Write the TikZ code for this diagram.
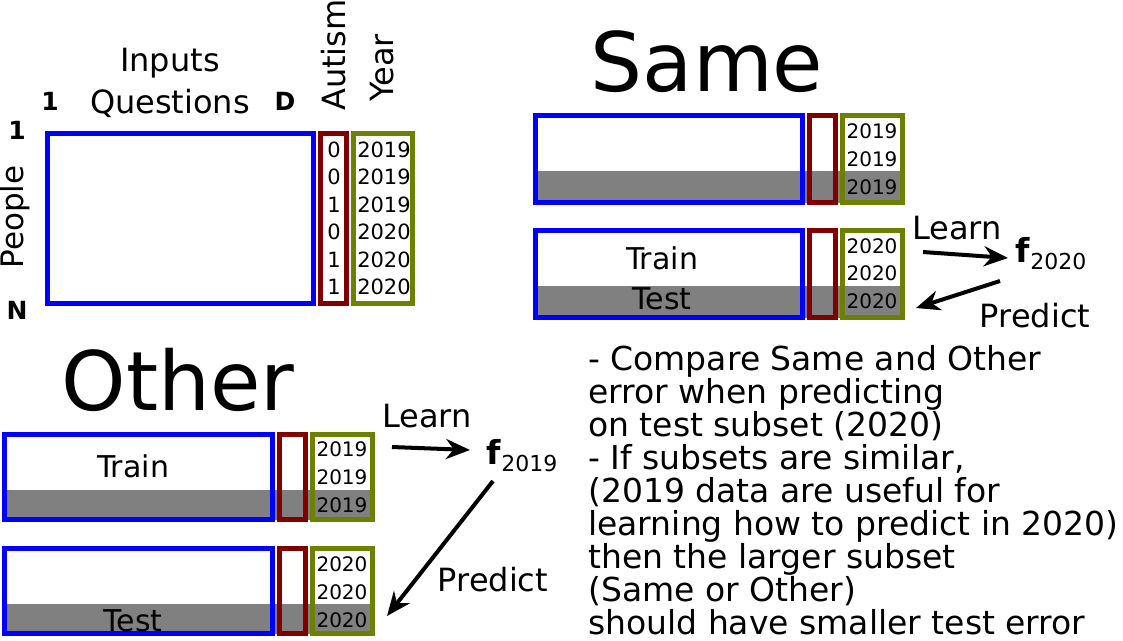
\documentclass[tikz,border=0pt]{standalone}
\usepackage{fontspec}
\setmainfont{DejaVu Sans}
\usetikzlibrary{arrows.meta}
\definecolor{inblue}{RGB}{0,0,255}
\definecolor{outred}{RGB}{128,0,0}
\definecolor{yrgreen}{RGB}{110,128,0}
\definecolor{testgray}{RGB}{128,128,128}
\newcommand{\fsz}[1]{\fontsize{#1}{#1}\selectfont}
\begin{document}
\begin{tikzpicture}[x=1pt,y=-1pt]

% node style definition
\tikzstyle{box} = [line width=5pt, inner sep=0, outer sep=0, anchor=north west];
\tikzstyle{inbox} = [box, draw=inblue];
\tikzstyle{outbox} = [box, draw=outred, minimum width=26pt];
\tikzstyle{yrbox} = [box, draw=yrgreen, minimum width=60pt];
\tikzstyle{plain} = [draw=none, fill=none, inner sep=0];
\tikzstyle{arr} = [line width=4pt, -{Stealth[length=24pt,width=20pt]}];

\useasboundingbox (0,0) rectangle (1123,640);

% the data table
\node[inbox, minimum width=266pt, minimum height=170pt] (tIn) at (47.5,133.5) {};
\node[outbox, minimum height=170pt] (tOut) at (320.5,133.5) {};
\node[yrbox, minimum width=59pt, minimum height=170pt] (tYr) at (353.5,133.5) {};
\foreach \v/\yr [count=\i] in {0/2019,0/2019,1/2019,0/2020,1/2020,1/2020} {
	\node[plain, font=\fsz{21}] (tv\i) at (334,122.5+27.4*\i) {\v};
	\node[plain, font=\fsz{21}] (ty\i) at (384,122.5+27.4*\i) {\yr};
}
\node[plain, font=\fsz{32}] (inputs) at (170,63) {Inputs};
\node[plain, font=\fsz{32}] (quest) at (170,103) {Questions};
\node[plain, font=\fsz{25}\bfseries] (q1) at (50,101) {1};
\node[plain, font=\fsz{25}\bfseries] (qD) at (285,101) {D};
\node[plain, font=\fsz{25}\bfseries] (p1) at (17,130) {1};
\node[plain, font=\fsz{25}\bfseries] (pN) at (17,310) {N};
\node[plain, font=\fsz{31}, rotate=90] (people) at (15,217) {People};
\node[plain, font=\fsz{32}, rotate=90] (autism) at (334,55) {Autism};
\node[plain, font=\fsz{32}, rotate=90] (year) at (382,68) {Year};

% Same
\node[plain, font=\fsz{82}] (same) at (707,62) {Same};
\fill[testgray] (535,171) rectangle (903,203);
\node[inbox, minimum width=267pt, minimum height=87pt] (sAIn) at (535.5,115.5) {};
\node[outbox, minimum height=87pt] (sAOut) at (809.5,115.5) {};
\node[yrbox, minimum height=87pt] (sAYr) at (842.5,115.5) {};
\fill[testgray] (535,286) rectangle (903,318);
\node[inbox, minimum width=267pt, minimum height=87pt] (sBIn) at (535.5,230.5) {};
\node[outbox, minimum height=87pt] (sBOut) at (809.5,230.5) {};
\node[yrbox, minimum height=87pt] (sBYr) at (842.5,230.5) {};
\foreach \i in {0,1,2} {
	\node[plain, font=\fsz{20}] (sAy\i) at (872,131+28*\i) {2019};
	\node[plain, font=\fsz{20}] (sBy\i) at (872,246+27.5*\i) {2020};
}
\node[plain, font=\fsz{30}] (sTrain) at (662,258) {Train};
\node[plain, font=\fsz{30}] (sTest) at (662,299) {Test};
\node[plain, font=\fsz{33}] (fS) at (1051,254) {\textbf{f}\raisebox{-7pt}{\fsz{22}2020}};
\coordinate (sLrn) at (923,252);
\coordinate (sLrnE) at (1008,258);
\coordinate (sPrd) at (1000,281);
\coordinate (sPrdE) at (916,308);
\draw[arr] (sLrn) -- (sLrnE);
\draw[arr] (sPrd) -- (sPrdE);
\node[plain, font=\fsz{32}] (sLearn) at (957,228) {Learn};
\node[plain, font=\fsz{32}] (sPredict) at (1035,316) {Predict};

% Other
\node[plain, font=\fsz{82}] (other) at (178,380) {Other};
\fill[testgray] (4,490) rectangle (373,520);
\node[inbox, minimum width=268pt, minimum height=85pt] (oAIn) at (4.5,434.5) {};
\node[outbox, minimum height=85pt] (oAOut) at (279.5,434.5) {};
\node[yrbox, minimum height=85pt] (oAYr) at (312.5,434.5) {};
\fill[testgray] (4,604) rectangle (373,634);
\node[inbox, minimum width=268pt, minimum height=85pt] (oBIn) at (4.5,548.5) {};
\node[outbox, minimum height=85pt] (oBOut) at (279.5,548.5) {};
\node[yrbox, minimum height=85pt] (oBYr) at (312.5,548.5) {};
\foreach \i in {0,1,2} {
	\node[plain, font=\fsz{20}] (oAy\i) at (342,449+28*\i) {2019};
	\node[plain, font=\fsz{20}] (oBy\i) at (342,564+28*\i) {2020};
}
\node[plain, font=\fsz{30}] (oTrain) at (133,466) {Train};
\node[plain, font=\fsz{30}] (oTest) at (133,621) {Test};
\node[plain, font=\fsz{33}] (fO) at (522,456) {\textbf{f}\raisebox{-7pt}{\fsz{22}2019}};
\coordinate (oLrn) at (392,447);
\coordinate (oLrnE) at (470,450);
\coordinate (oPrd) at (493,481);
\coordinate (oPrdE) at (387,616);
\draw[arr] (oLrn) -- (oLrnE);
\draw[arr] (oPrd) -- (oPrdE);
\node[plain, font=\fsz{32}] (oLearn) at (427,416) {Learn};
\node[plain, font=\fsz{32}] (oPredict) at (493,580) {Predict};

% conclusion
\node[plain, anchor=north west, align=left, font=\fontsize{33}{33}\selectfont] (notes) at (588,345) {%
- Compare Same and Other\\
error when predicting\\
on test subset (2020)\\
- If subsets are similar,\\
(2019 data are useful for\\
learning how to predict in 2020)\\
then the larger subset\\
(Same or Other)\\
should have smaller test error};

\end{tikzpicture}
\end{document}
